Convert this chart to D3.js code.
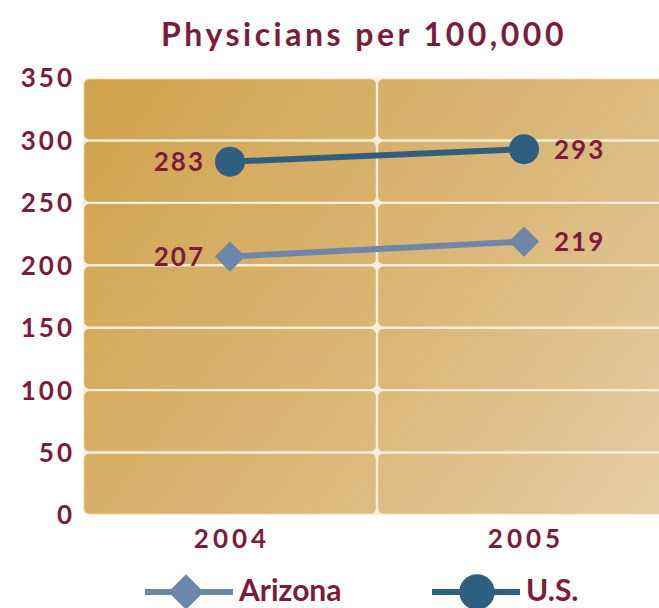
<!DOCTYPE html>
<html lang="en">
    <head>
        <meta charset="utf-8">
        <title>Physicians per 100,000</title>
        <script type="text/javascript" src="https://cdn.jsdelivr.net/npm/d3@7"></script>
        <style>
            body { margin: 0; background: #ffffff; }
            text { font-family: Lato, "Open Sans", sans-serif; font-weight: 700; }
        </style>
    </head>
    <body>
        <script type="text/javascript">

        var w = 659;
        var h = 608;

        var years = ["2004", "2005"];
        var arizona = [207, 219];
        var us = [283, 293];
        var yTicks = [0, 50, 100, 150, 200, 250, 300, 350];

        var maroon = "#7b1c3d";
        var azColor = "#6e87a8";
        var usColor = "#2f5f80";

        var svg = d3.select("body")
            .append("svg")
            .attr("width", w)
            .attr("height", h);

        var x = d3.scaleBand()
            .domain(years)
            .range([83, 671]);

        var y = d3.scaleLinear()
            .domain([0, 350])
            .range([515, 78]);

        //background gradient
        var grad = svg.append("defs").append("linearGradient")
            .attr("id", "gold")
            .attr("gradientUnits", "userSpaceOnUse")
            .attr("x1", 83).attr("y1", 78)
            .attr("x2", 671).attr("y2", 515);
        grad.append("stop").attr("offset", "0%").attr("stop-color", "#d2a24b");
        grad.append("stop").attr("offset", "55%").attr("stop-color", "#dab779");
        grad.append("stop").attr("offset", "100%").attr("stop-color", "#e6cda4");

        //one rounded cell for each band and each 50 step
        var cells = [];
        years.forEach(function(yr) {
            for (var i = 0; i < yTicks.length - 1; i++) {
                cells.push({ yr: yr, lo: yTicks[i], hi: yTicks[i + 1] });
            }
        });
        var gap = 1.2;
        svg.append("rect")
           .attr("x", 83).attr("y", 78)
           .attr("width", 588).attr("height", 437)
           .attr("rx", 5)
           .attr("fill", "#f8efd9");
        svg.selectAll("rect.cell")
           .data(cells)
           .enter()
           .append("rect")
           .attr("class", "cell")
           .attr("x", function(d) { return x(d.yr) + gap; })
           .attr("y", function(d) { return y(d.hi) + gap; })
           .attr("width", function(d) { return x.bandwidth() - gap * 2; })
           .attr("height", function(d) { return y(d.lo) - y(d.hi) - gap * 2; })
           .attr("rx", 5)
           .attr("fill", "url(#gold)");

        //title
        svg.append("text")
           .attr("x", 364)
           .attr("y", 46)
           .attr("text-anchor", "middle")
           .attr("font-size", "32px")
           .attr("font-weight", 400)
           .attr("letter-spacing", "3.5px")
           .attr("fill", maroon)
           .text("Physicians per 100,000");

        //y tick labels
        svg.selectAll("text.ytick")
           .data(yTicks)
           .enter()
           .append("text")
           .attr("class", "ytick")
           .attr("x", 75)
           .attr("y", function(d) { return y(d); })
           .attr("dy", "0.36em")
           .attr("text-anchor", "end")
           .attr("font-size", "26px")
           .attr("letter-spacing", "3px")
           .attr("fill", maroon)
           .text(function(d) { return d; });

        //x labels
        svg.selectAll("text.xtick")
           .data(years)
           .enter()
           .append("text")
           .attr("class", "xtick")
           .attr("x", function(d) { return x(d) + x.bandwidth() / 2 + 2; })
           .attr("y", 548)
           .attr("text-anchor", "middle")
           .attr("font-size", "26px")
           .attr("letter-spacing", "4px")
           .attr("fill", maroon)
           .text(function(d) { return d; });

        var cx = function(d, i) { return x(years[i]) + x.bandwidth() / 2; };
        var line = d3.line()
            .x(function(d, i) { return cx(d, i); })
            .y(function(d) { return y(d); });

        //Arizona
        svg.append("path")
           .datum(arizona)
           .attr("d", line)
           .attr("fill", "none")
           .attr("stroke", azColor)
           .attr("stroke-width", 6);
        svg.selectAll("path.az")
           .data(arizona)
           .enter()
           .append("path")
           .attr("class", "az")
           .attr("d", d3.symbol().type(d3.symbolDiamond2).size(580))
           .attr("transform", function(d, i) { return "translate(" + cx(d, i) + "," + y(d) + ")"; })
           .attr("fill", azColor);

        //U.S.
        svg.append("path")
           .datum(us)
           .attr("d", line)
           .attr("fill", "none")
           .attr("stroke", usColor)
           .attr("stroke-width", 6);
        svg.selectAll("circle.us")
           .data(us)
           .enter()
           .append("circle")
           .attr("class", "us")
           .attr("cx", function(d, i) { return cx(d, i); })
           .attr("cy", function(d) { return y(d); })
           .attr("r", 15)
           .attr("fill", usColor);

        //value labels: left of 2004 points, right of 2005 points
        var labels = [];
        arizona.forEach(function(v, i) { labels.push({ v: v, i: i }); });
        us.forEach(function(v, i) { labels.push({ v: v, i: i }); });
        svg.selectAll("text.val")
           .data(labels)
           .enter()
           .append("text")
           .attr("class", "val")
           .attr("x", function(d) { return d.i === 0 ? cx(d.v, d.i) - 25 : cx(d.v, d.i) + 30; })
           .attr("y", function(d) { return y(d.v); })
           .attr("dy", "0.36em")
           .attr("text-anchor", function(d) { return d.i === 0 ? "end" : "start"; })
           .attr("font-size", "26px")
           .attr("letter-spacing", "2px")
           .attr("fill", maroon)
           .text(function(d) { return d.v; });

        //legend
        var legend = [
            { name: "Arizona", color: azColor, x0: 145, shape: "diamond" },
            { name: "U.S.", color: usColor, x0: 432, shape: "circle" }
        ];
        var lg = svg.selectAll("g.legend")
           .data(legend)
           .enter()
           .append("g")
           .attr("class", "legend")
           .attr("transform", function(d) { return "translate(" + d.x0 + ",592)"; });
        lg.append("line")
           .attr("x1", 0).attr("x2", 88)
           .attr("stroke", function(d) { return d.color; })
           .attr("stroke-width", 6);
        lg.append("path")
           .attr("d", function(d) {
               return d.shape === "diamond"
                   ? d3.symbol().type(d3.symbolDiamond2).size(800)()
                   : d3.symbol().type(d3.symbolCircle).size(1000)();
           })
           .attr("transform", function(d) { return d.shape === "diamond" ? "translate(41,0)" : "translate(45,0)"; })
           .attr("fill", function(d) { return d.color; });
        lg.append("text")
           .attr("x", 94)
           .attr("y", 9)
           .attr("font-size", "30px")
           .attr("fill", maroon)
           .text(function(d) { return d.name; });
        </script>
    </body>
</html>
